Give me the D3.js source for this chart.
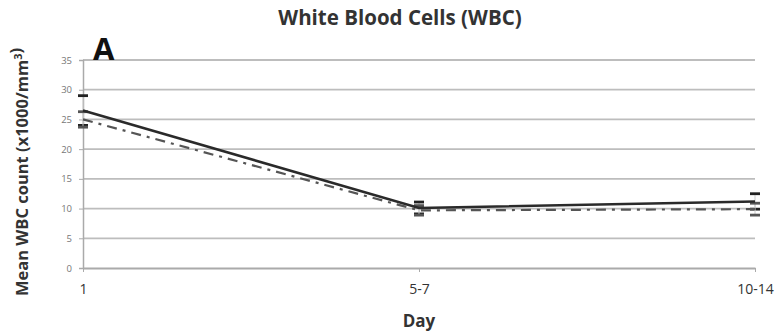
<!DOCTYPE html>
<html>
<head>
<meta charset="utf-8">
<script src="https://cdn.jsdelivr.net/npm/d3@7"></script>
<style>
  body { margin: 0; background: #fff; }
  svg { display: block; }
</style>
</head>
<body>
<svg id="chart" width="776" height="336"></svg>
<script>
// Sampling days and mean WBC counts (x1000/mm³) for the two groups
const days = ["1", "5-7", "10-14"];
const groupSolid = [26.5, 10.1, 11.2];
const groupSolidErr = [2.5, 1.0, 1.3];
const groupDashed = [25.0, 9.7, 9.9];
const groupDashedErr = [1.3, 0.8, 1.0];
const yTicks = [0, 5, 10, 15, 20, 25, 30, 35];

const svg = d3.select("#chart");
const margin = { left: 83, right: 21, top: 60, bottom: 68 };
const W = 776, H = 336;
const font = "Open Sans, sans-serif";

const x = d3.scalePoint().domain(days).range([margin.left, W - margin.right]);
const y = d3.scaleLinear().domain([0, 35]).range([H - margin.bottom, margin.top]);

// Horizontal gridlines
svg.append("g").selectAll("line").data(yTicks.filter(t => t > 0)).join("line")
  .attr("x1", margin.left).attr("x2", W - margin.right)
  .attr("y1", d => y(d)).attr("y2", d => y(d))
  .attr("stroke", "#bdbdbd").attr("stroke-width", 1.8);

// Y axis
const yAxis = svg.append("g").attr("transform", `translate(${margin.left},0)`)
  .call(d3.axisLeft(y).tickValues(yTicks).tickSize(4).tickPadding(7));
yAxis.select(".domain").attr("stroke", "#aaa").attr("stroke-width", 1.5);
yAxis.selectAll(".tick line").attr("stroke", "#aaa");
yAxis.selectAll("text").attr("font-family", font)
  .attr("font-size", 9.5).attr("fill", "#777");

// X axis
const xAxis = svg.append("g").attr("transform", `translate(0,${y(0)})`)
  .call(d3.axisBottom(x).tickSize(4).tickPadding(12).tickSizeOuter(0));
xAxis.select(".domain").attr("stroke", "#aaa").attr("stroke-width", 1.8);
xAxis.selectAll(".tick line").attr("stroke", "#aaa");
xAxis.selectAll("text").attr("font-family", font)
  .attr("font-size", 14).attr("fill", "#333");

// Error bars drawn as vertical whiskers with caps
function errorBars(vals, errs, color) {
  const g = svg.append("g");
  days.forEach((d, i) => {
    const cx = x(d);
    g.append("line").attr("x1", cx).attr("x2", cx)
      .attr("y1", y(vals[i] - errs[i])).attr("y2", y(vals[i] + errs[i]))
      .attr("stroke", "#ccc").attr("stroke-width", 1);
    [vals[i] - errs[i], vals[i] + errs[i]].forEach(v => {
      g.append("line").attr("x1", cx - 5).attr("x2", cx + 5)
        .attr("y1", y(v)).attr("y2", y(v))
        .attr("stroke", color).attr("stroke-width", 2.8);
    });
  });
}
errorBars(groupSolid, groupSolidErr, "#222");
errorBars(groupDashed, groupDashedErr, "#555");

const line = d3.line().x((d, i) => x(days[i])).y(d => y(d));

svg.append("path").datum(groupDashed).attr("d", line)
  .attr("fill", "none").attr("stroke", "#555").attr("stroke-width", 2.2)
  .attr("stroke-dasharray", "10,6,3,6");

svg.append("path").datum(groupSolid).attr("d", line)
  .attr("fill", "none").attr("stroke", "#2a2a2a").attr("stroke-width", 2.6);

// Titles and labels
svg.append("text").attr("x", 400).attr("y", 25).attr("text-anchor", "middle")
  .attr("font-family", font).attr("font-weight", "bold")
  .attr("font-size", 20.5).attr("fill", "#333").text("White Blood Cells (WBC)");

svg.append("text").attr("x", 93).attr("y", 60)
  .attr("font-family", font).attr("font-weight", "bold")
  .attr("font-size", 31).attr("fill", "#111").text("A");

svg.append("text")
  .attr("transform", `translate(28,${(y(0) + y(35)) / 2 + 8}) rotate(-90)`)
  .attr("text-anchor", "middle")
  .attr("font-family", font).attr("font-weight", "bold")
  .attr("font-size", 16.5).attr("fill", "#333")
  .html('Mean WBC count (x1000/mm<tspan dy="-6" font-size="11">3</tspan>)');

svg.append("text").attr("x", 419).attr("y", 327).attr("text-anchor", "middle")
  .attr("font-family", font).attr("font-weight", "bold")
  .attr("font-size", 17).attr("fill", "#333").text("Day");
</script>
</body>
</html>
